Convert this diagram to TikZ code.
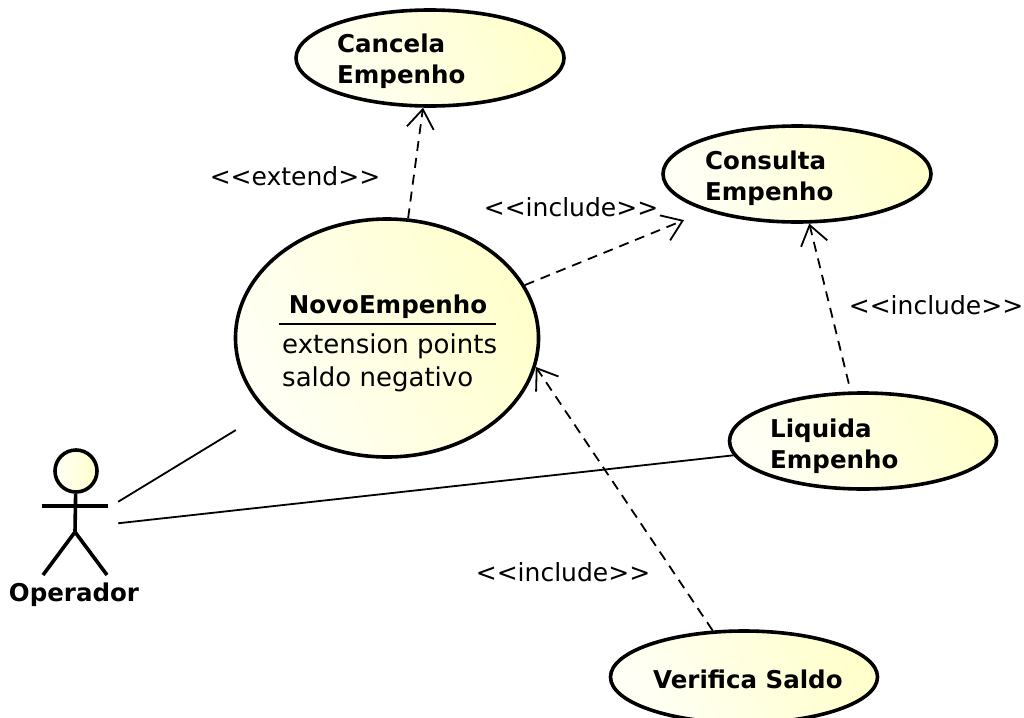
\documentclass[tikz,border=0pt]{standalone}
\usepackage{fontspec}
\setmainfont{DejaVu Sans}
\usetikzlibrary{arrows.meta,shapes.geometric}
\definecolor{ucLight}{HTML}{FFFFF6}
\definecolor{ucDark}{HTML}{FFFFCC}
\tikzset{
  usecase/.style={draw=black,line width=3.6pt,ellipse,inner sep=0pt,left color=ucLight,right color=ucDark,shading angle=115},
  ucname/.style={inner sep=0pt,anchor=west,align=left,font=\fontsize{24.5}{31}\selectfont\bfseries},
  ucbody/.style={inner sep=0pt,anchor=west,align=left,font=\fontsize{26}{33}\selectfont},
  stereo/.style={inner sep=0pt,font=\fontsize{25}{30}\selectfont},
  assoc/.style={line width=1.8pt},
  depend/.style={line width=1.8pt,dash pattern=on 10pt off 7pt,-{Straight Barb[length=19pt,width=27pt,line width=1.8pt]}},
  stick/.style={line width=3.6pt}
}
\begin{document}
\begin{tikzpicture}[x=1pt,y=-1pt]
\useasboundingbox (0,0) rectangle (1024,717);
\node[usecase,minimum width=268pt,minimum height=96pt] (cancela) at (430,58) {};
\node[usecase,minimum width=268pt,minimum height=96pt] (consulta) at (797,174) {};
\node[usecase,minimum width=303pt,minimum height=238pt] (novo) at (387,338) {};
\node[usecase,minimum width=267pt,minimum height=96pt] (liquida) at (863,441) {};
\node[usecase,minimum width=267pt,minimum height=92pt] (verifica) at (744,677) {};
\node[ucname] (cancelaText) at (337,61) {Cancela\\Empenho};
\node[ucname] (consultaText) at (705,178) {Consulta\\Empenho};
\node[ucname] (liquidaText) at (770,446) {Liquida\\Empenho};
\node[ucname] (verificaText) at (653,679) {Verifica Saldo};
\node[ucname,anchor=center] (novoTitle) at (388,307) {NovoEmpenho};
\node[ucbody] (novoBody) at (282,363) {extension points\\saldo negativo};
\coordinate (ruleLeft) at (279,324);
\coordinate (ruleRight) at (496,324);
\draw[line width=1.8pt] (ruleLeft) -- (ruleRight);
\node[minimum width=86pt,minimum height=150pt,inner sep=0pt] (operador) at (75,528) {};
\node[circle,draw=black,line width=3.6pt,inner sep=0pt,minimum size=42pt,left color=ucLight,right color=ucDark] (head) at (76,471) {};
\coordinate (armLeft) at (42,506);
\coordinate (armRight) at (108,506);
\coordinate (hip) at (75,532);
\coordinate (footLeft) at (43,575);
\coordinate (footRight) at (107,575);
\draw[stick] (head) -- (hip);
\draw[stick] (armLeft) -- (armRight);
\draw[stick] (footLeft) -- (hip) -- (footRight);
\node[ucname,anchor=center] (operadorText) at (74,595) {Operador};
\draw[assoc,shorten >=35pt] (operador) -- (novo);
\draw[assoc] (operador) -- (liquida);
\draw[depend] (novo.80) -- (cancela.-98);
\draw[depend,shorten >=24pt] (novo.21) -- (consulta);
\draw[depend,shorten <=8pt] (liquida) -- (consulta);
\draw[depend] (verifica.124) -- (novo.-11);
\node[stereo] (extendLabel) at (295,176) {<{}<extend>{}>};
\node[stereo] (includeA) at (571,207) {<{}<include>{}>};
\node[stereo] (includeB) at (936,305) {<{}<include>{}>};
\node[stereo] (includeC) at (563,572) {<{}<include>{}>};
\end{tikzpicture}
\end{document}
